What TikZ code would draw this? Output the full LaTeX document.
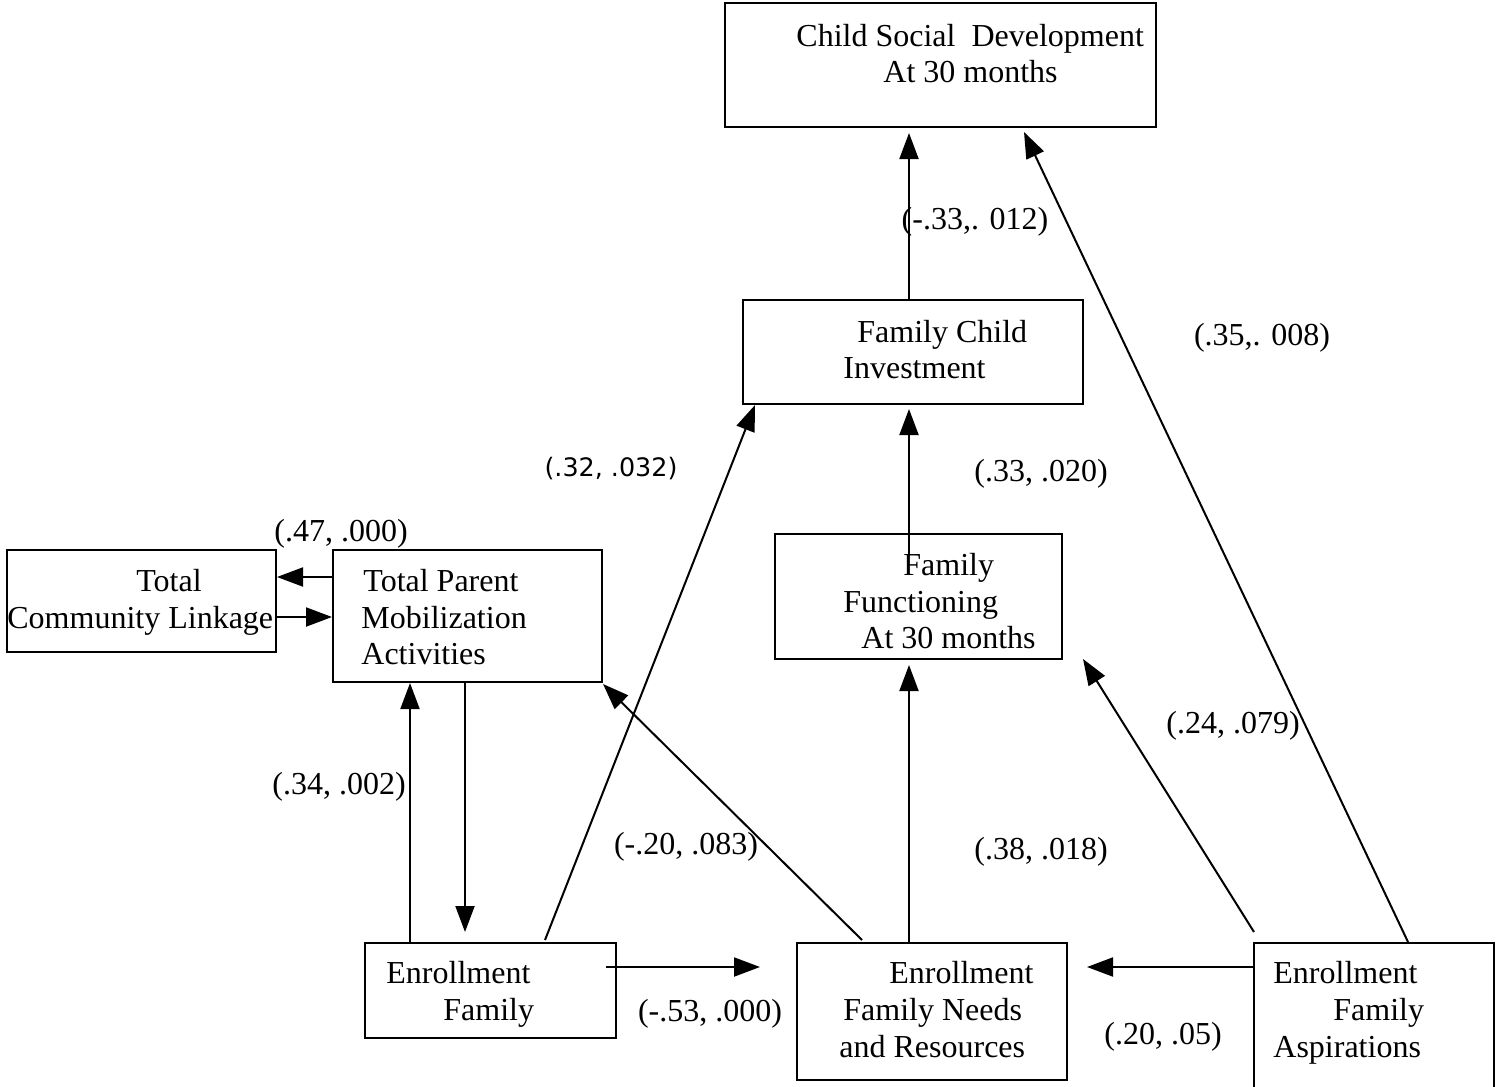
\documentclass[tikz,border=0pt]{standalone}
\usepackage{fontspec}
\setmainfont{Liberation Serif}
\newfontfamily\lblsans{DejaVu Sans}
\usetikzlibrary{arrows.meta,fit}
\begin{document}
\begin{tikzpicture}[x=0.5pt,y=-0.5pt,
  box/.style={draw, line width=1pt, inner sep=0pt},
  txt/.style={anchor=base west, inner sep=0pt, font=\fontsize{16}{19}\selectfont},
  lbl/.style={anchor=base, inner sep=0pt, font=\fontsize{16}{19}\selectfont},
  slbl/.style={anchor=base, inner sep=0pt, font=\lblsans\fontsize{12.7}{15}\selectfont},
  arr/.style={line width=1pt, -{Triangle[length=13pt,width=9.5pt]}}]
\useasboundingbox (0,0) rectangle (1502,1086);

% boxes
\node[box, fit={(725,3) (1156,127)}] (csd) {};
\node[box, fit={(743,300) (1083,404)}] (inv) {};
\node[box, fit={(775,534) (1062,659)}] (fun) {};
\node[box, fit={(7,550) (276,652)}] (com) {};
\node[box, fit={(333,550) (602,682)}] (mob) {};
\node[box, fit={(365,943) (616,1038)}] (enr) {};
\node[box, fit={(797,943) (1067,1080)}] (nee) {};
\node[box, fit={(1254,943) (1494,1110)}] (asp) {};

% box texts
\node[txt] (csd1) at (796,47) {Child Social\hspace{0.25em} Development};
\node[txt] (csd2) at (883,83) {At 30 months};
\node[txt] (inv1) at (857,342) {Family Child};
\node[txt] (inv2) at (843,378) {Investment};
\node[txt] (fun1) at (903,575) {Family};
\node[txt] (fun2) at (843,612) {Functioning};
\node[txt] (fun3) at (861,648) {At 30 months};
\node[txt] (com1) at (136,591) {Total};
\node[txt] (com2) at (7,628) {Community Linkage};
\node[txt] (mob1) at (363,591) {Total Parent};
\node[txt] (mob2) at (361,628) {Mobilization};
\node[txt] (mob3) at (361,664) {Activities};
\node[txt] (enr1) at (386,983) {Enrollment};
\node[txt] (enr2) at (443,1020) {Family};
\node[txt] (nee1) at (889,983) {Enrollment};
\node[txt] (nee2) at (843,1020) {Family Needs};
\node[txt] (nee3) at (839,1057) {and Resources};
\node[txt] (asp1) at (1273,983) {Enrollment};
\node[txt] (asp2) at (1333,1020) {Family};
\node[txt] (asp3) at (1273,1057) {Aspirations};

% connectors
\draw[arr] (909,0 |- inv.north) -- (909,133);
\draw[arr] (909,555) -- (909,409);
\draw[arr] (909,0 |- nee.north) -- (909,665);
\draw[arr] (1408,0 |- asp.north) -- (1024,132);
\draw[arr] (1254,932) -- (1083,659);
\draw[arr] (asp.west |- 0,967) -- (1087,967);
\draw[arr] (862,940) -- (603,684);
\draw[arr] (545,940) -- (755,405);
\draw[arr] (410,0 |- enr.north) -- (410,683);
\draw[arr] (465,0 |- mob.south) -- (465,932);
\draw[arr] (com.east |- 0,617) -- (mob.west |- 0,617);
\draw[arr] (mob.west |- 0,577) -- (com.east |- 0,577);
\draw[arr] (606,967) -- (760,967);

% labels
\node[lbl] (l1) at (975,229) {(-.33,. 012)};
\node[lbl] (l2) at (1262,345) {(.35,. 008)};
\node[slbl] (l3) at (611,476) {(.32, .032)};
\node[lbl] (l4) at (1041,481) {(.33, .020)};
\node[lbl] (l5) at (341,541) {(.47, .000)};
\node[lbl] (l6) at (339,794) {(.34, .002)};
\node[lbl] (l7) at (686,854) {(-.20, .083)};
\node[lbl] (l8) at (1041,859) {(.38, .018)};
\node[lbl] (l9) at (1233,733) {(.24, .079)};
\node[lbl] (l10) at (710,1021) {(-.53, .000)};
\node[lbl] (l11) at (1163,1044) {(.20, .05)};
\end{tikzpicture}
\end{document}
